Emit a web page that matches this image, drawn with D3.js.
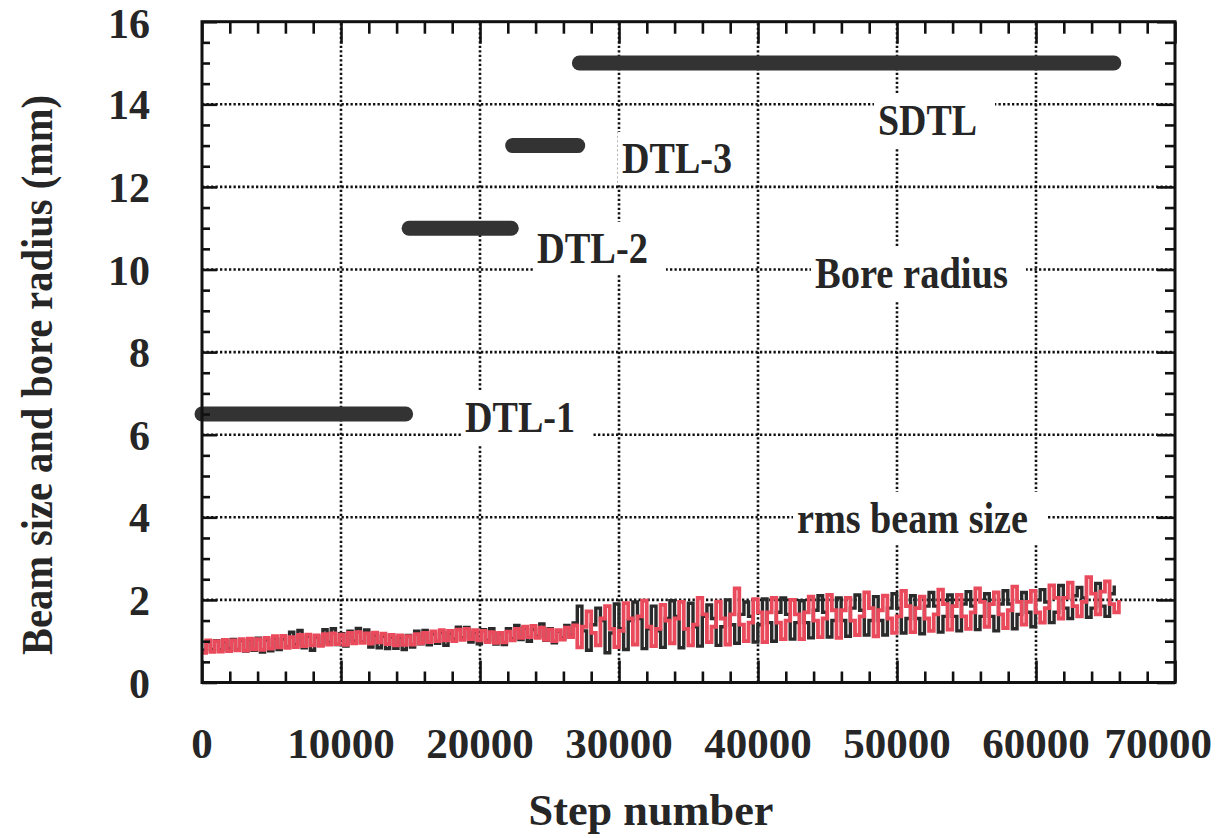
<!DOCTYPE html>
<html><head><meta charset="utf-8">
<script src="https://cdn.jsdelivr.net/npm/d3@7"></script>
<style>body{margin:0;background:#fff}svg{display:block}</style>
</head><body><svg id="c" width="1216" height="838"></svg>
<script>
// ---------------- data ----------------
const xTicks = [0, 10000, 20000, 30000, 40000, 50000, 60000, 70000];
const xTickLabels = ["0", "10000", "20000", "30000", "40000", "50000", "60000", "70000"];
const yTicks = [0, 2, 4, 6, 8, 10, 12, 14, 16];
const yTickLabels = ["0", "2", "4", "6", "8", "10", "12", "14", "16"];

const boreSections = ["DTL-1", "DTL-2", "DTL-3", "SDTL"];
const boreStart = [0, 14900, 22350, 27150];
const boreEnd = [14650, 22250, 27030, 65600];
const boreRadius = [6.5, 11, 13, 15];

// rms beam size, DTL part: one sample every 300 steps from step 0
const dtlStep = 300;
const redDTL = [0.72,1.02,0.74,1.00,0.75,1.03,0.76,1.02,0.78,1.05,0.77,1.06,0.80,1.05,0.79,1.08,0.82,1.12,0.85,1.13,
  0.84,1.10,0.86,1.15,0.88,1.16,0.90,1.14,0.89,1.17,0.92,1.19,0.93,1.16,0.91,1.20,0.95,1.22,0.96,1.19,
  0.94,1.21,0.97,1.18,0.93,1.15,0.90,1.14,0.91,1.12,0.92,1.17,0.95,1.20,0.98,1.24,1.00,1.27,1.02,1.25,
  1.00,1.28,1.03,1.30,1.05,1.27,1.02,1.25,0.98,1.22,0.96,1.20,0.97,1.23,1.02,1.30,1.08,1.35,1.10,1.37,
  1.08,1.33,1.03,1.28,1.00,1.27,1.04,1.33,1.10,1.38];
const blackDTL = [0.78,0.98,0.80,1.01,0.79,0.99,0.82,1.04,0.80,1.02,0.76,1.04,0.78,1.07,0.74,1.03,0.77,1.08,0.80,1.05,
  0.86,1.22,0.92,1.26,0.84,1.12,0.78,1.10,0.90,1.28,0.97,1.30,0.92,1.18,0.88,1.24,1.00,1.31,0.98,1.27,
  0.86,1.15,0.84,1.12,0.82,1.10,0.83,1.09,0.80,1.14,0.86,1.24,0.94,1.26,0.91,1.18,0.95,1.22,0.90,1.20,
  1.05,1.34,1.08,1.33,0.98,1.22,0.94,1.28,1.02,1.30,0.93,1.18,0.92,1.30,1.06,1.38,1.04,1.32,1.00,1.28,
  1.12,1.42,1.02,1.30,0.96,1.24,1.08,1.38,1.14,1.44];

// rms beam size, SDTL part: one sample every 333 steps from step 27000
const sdtlStart = 27000;
const sdtlStep = 333;
const redSDTL = [
  0.85,1.35,1.72,1.20, 0.90,1.55,1.85,1.30, 0.86,1.25,1.92,1.55, 0.92,1.60,1.98,1.35,
  0.88,1.30,1.88,1.50, 0.95,1.55,1.95,1.30, 0.90,1.40,2.05,1.65, 0.98,1.35,1.96,1.55,
  0.92,1.65,2.28,1.40, 1.00,1.45,2.02,1.70, 0.98,1.70,2.05,1.45, 1.05,1.50,2.00,1.65,
  1.05,1.70,2.08,1.50, 1.10,1.55,2.12,1.75, 1.08,1.75,2.05,1.50, 1.15,1.60,2.18,1.80,
  1.12,1.75,2.10,1.55, 1.20,1.60,2.22,1.85, 1.22,1.80,2.08,1.55, 1.25,1.65,2.25,1.90,
  1.28,1.85,2.12,1.60, 1.30,1.70,2.28,1.95, 1.35,1.90,2.18,1.65, 1.32,1.75,2.32,1.95,
  1.40,1.95,2.22,1.70, 1.45,1.80,2.35,2.05, 1.55,2.05,2.42,1.85, 1.60,1.95,2.55,2.15,
  1.65,2.20,2.45,1.90, 1.70,2.00];
const blackSDTL = [
  1.85,1.25,0.78,1.40, 1.80,1.50,0.72,1.20, 1.90,1.30,0.80,1.50, 1.95,1.55,0.82,1.30,
  1.85,1.25,0.85,1.55, 1.98,1.60,0.84,1.30, 1.92,1.35,0.88,1.60, 1.88,1.55,0.90,1.35,
  2.00,1.40,0.95,1.65, 1.95,1.60,0.98,1.40, 2.02,1.45,1.00,1.70, 2.05,1.65,1.05,1.45,
  1.98,1.45,1.08,1.75, 2.10,1.70,1.10,1.50, 2.05,1.50,1.12,1.80, 2.12,1.75,1.15,1.50,
  2.08,1.50,1.15,1.80, 2.15,1.80,1.20,1.55, 2.10,1.55,1.18,1.85, 2.18,1.85,1.22,1.60,
  2.12,1.60,1.25,1.90, 2.20,1.85,1.28,1.60, 2.15,1.60,1.25,1.90, 2.22,1.90,1.30,1.65,
  2.18,1.70,1.35,2.00, 2.25,1.95,1.45,1.70, 2.35,1.80,1.55,2.10, 2.30,2.05,1.58,1.80,
  2.40,1.85,1.60,2.15, 2.35];

// annotation labels
const labelTexts = ["SDTL", "DTL-3", "DTL-2", "Bore radius", "DTL-1", "rms beam size"];
const labelX = [878, 622, 537, 815, 465, 797];
const labelY = [135, 173, 263, 288, 432, 533];
const labelW = [99, 110, 111, 193, 110, 231];

// ---------------- chart ----------------
const svg = d3.select("#c");
const L = 202, R = 1175, T = 21.7, B = 682.5;
const x = d3.scaleLinear().domain([0, 70000]).range([L, R]);
const y = d3.scaleLinear().domain([0, 16]).range([B, T]);
const FONT = "'Liberation Serif','Times New Roman',serif";
const INK = "#262626";

function series(dtl, sdtl) {
  const pts = dtl.map((v, i) => [i * dtlStep, v]);
  return pts.concat(sdtl.map((v, i) => [sdtlStart + i * sdtlStep, v]));
}
const blackSeries = series(blackDTL, blackSDTL);
const redSeries = series(redDTL, redSDTL);

// grid
const grid = svg.append("g").attr("stroke", "#111").attr("stroke-width", 2.6)
  .attr("stroke-dasharray", "2.3,2.2");
grid.selectAll(".gx").data(xTicks.slice(1, -1)).join("line")
  .attr("x1", d => x(d)).attr("x2", d => x(d)).attr("y1", B).attr("y2", T);
grid.selectAll(".gy").data(yTicks.slice(1, -1)).join("line")
  .attr("y1", d => y(d)).attr("y2", d => y(d)).attr("x1", L).attr("x2", R);

// label boxes + labels
const lab = svg.append("g");
labelTexts.forEach((t, i) => {
  const g = lab.append("g");
  const rect = g.append("rect").attr("fill", "#fff");
  const tx = g.append("text").attr("x", labelX[i]).attr("y", labelY[i])
    .attr("font-family", FONT).attr("font-weight", "bold").attr("font-size", 44)
    .attr("fill", INK).attr("textLength", labelW[i]).attr("lengthAdjust", "spacingAndGlyphs")
    .text(t);
  const bb = tx.node().getBBox();
  rect.attr("x", bb.x - 4).attr("y", bb.y - 2).attr("width", bb.width + 22).attr("height", bb.height + 4);
});

// bore radius bars
svg.append("g").selectAll("line").data(boreSections).join("line")
  .attr("x1", (d, i) => x(boreStart[i])).attr("x2", (d, i) => x(boreEnd[i]))
  .attr("y1", (d, i) => y(boreRadius[i])).attr("y2", (d, i) => y(boreRadius[i]))
  .attr("stroke", "#333").attr("stroke-width", 15).attr("stroke-linecap", "round");

// beam size lines
svg.append("clipPath").attr("id", "clip").append("rect")
  .attr("x", L).attr("y", T).attr("width", R - L).attr("height", B - T);
const line = d3.line().x(d => x(d[0])).y(d => y(d[1])).curve(d3.curveStepAfter);
const lines = svg.append("g").attr("clip-path", "url(#clip)");
lines.append("path").datum(blackSeries).attr("d", line)
  .attr("fill", "none").attr("stroke", "#2a2a2a").attr("stroke-width", 3.4);
lines.append("path").datum(redSeries).attr("d", line)
  .attr("fill", "none").attr("stroke", "#e94b5c").attr("stroke-width", 3.8);

// ticks (inward on all four sides)
const xMinor = d3.range(0, 70001, 2000).filter(v => v % 10000 !== 0);
const yMinor = d3.range(0, 16.01, 0.5).filter(v => v % 2 !== 0);
function styleAxis(g) { g.select(".domain").remove(); g.selectAll("line").attr("stroke", "#111").attr("stroke-width", 2.6); g.selectAll("text").remove(); }
svg.append("g").attr("transform", `translate(0,${B})`).call(d3.axisBottom(x).tickValues(xTicks).tickSize(-22)).call(styleAxis);
svg.append("g").attr("transform", `translate(0,${B})`).call(d3.axisBottom(x).tickValues(xMinor).tickSize(-11)).call(styleAxis);
svg.append("g").attr("transform", `translate(0,${T})`).call(d3.axisTop(x).tickValues(xTicks).tickSize(-22)).call(styleAxis);
svg.append("g").attr("transform", `translate(0,${T})`).call(d3.axisTop(x).tickValues(xMinor).tickSize(-12)).call(styleAxis);
svg.append("g").attr("transform", `translate(${L},0)`).call(d3.axisLeft(y).tickValues(yTicks).tickSize(-15)).call(styleAxis);
svg.append("g").attr("transform", `translate(${L},0)`).call(d3.axisLeft(y).tickValues(yMinor).tickSize(-8)).call(styleAxis);
svg.append("g").attr("transform", `translate(${R},0)`).call(d3.axisRight(y).tickValues(yTicks).tickSize(-18)).call(styleAxis);
svg.append("g").attr("transform", `translate(${R},0)`).call(d3.axisRight(y).tickValues(yMinor).tickSize(-10)).call(styleAxis);

// frame
svg.append("rect").attr("x", L).attr("y", T).attr("width", R - L).attr("height", B - T)
  .attr("fill", "none").attr("stroke", "#111").attr("stroke-width", 3);

// tick labels
const txt = svg.append("g").attr("font-family", FONT).attr("font-weight", "bold").attr("fill", INK);
txt.selectAll(".xl").data(xTicks).join("text")
  .attr("y", 758).attr("font-size", 43)
  .text((d, i) => xTickLabels[i])
  .each(function (d) {
    const w = this.getComputedTextLength();
    const left = Math.min(x(d) - w / 2, 1212 - w);
    d3.select(this).attr("x", left);
  });
txt.selectAll(".yl").data(yTicks).join("text")
  .attr("x", 150).attr("y", d => y(d)).attr("dy", "0.36em").attr("text-anchor", "end").attr("font-size", 42)
  .text((d, i) => yTickLabels[i])
  .each(function () {
    const bb = this.getBBox();
    if (bb.y < 1) d3.select(this).attr("y", +d3.select(this).attr("y") + (1 - bb.y));
  });

// axis titles
txt.append("text").attr("x", 651).attr("y", 825).attr("text-anchor", "middle").attr("font-size", 44)
  .attr("textLength", 245).attr("lengthAdjust", "spacingAndGlyphs")
  .text("Step number");
txt.append("text").attr("transform", "translate(52,375) rotate(-90)").attr("text-anchor", "middle")
  .attr("font-size", 44).attr("textLength", 560).attr("lengthAdjust", "spacingAndGlyphs")
  .text("Beam size and bore radius (mm)");
</script></body></html>
